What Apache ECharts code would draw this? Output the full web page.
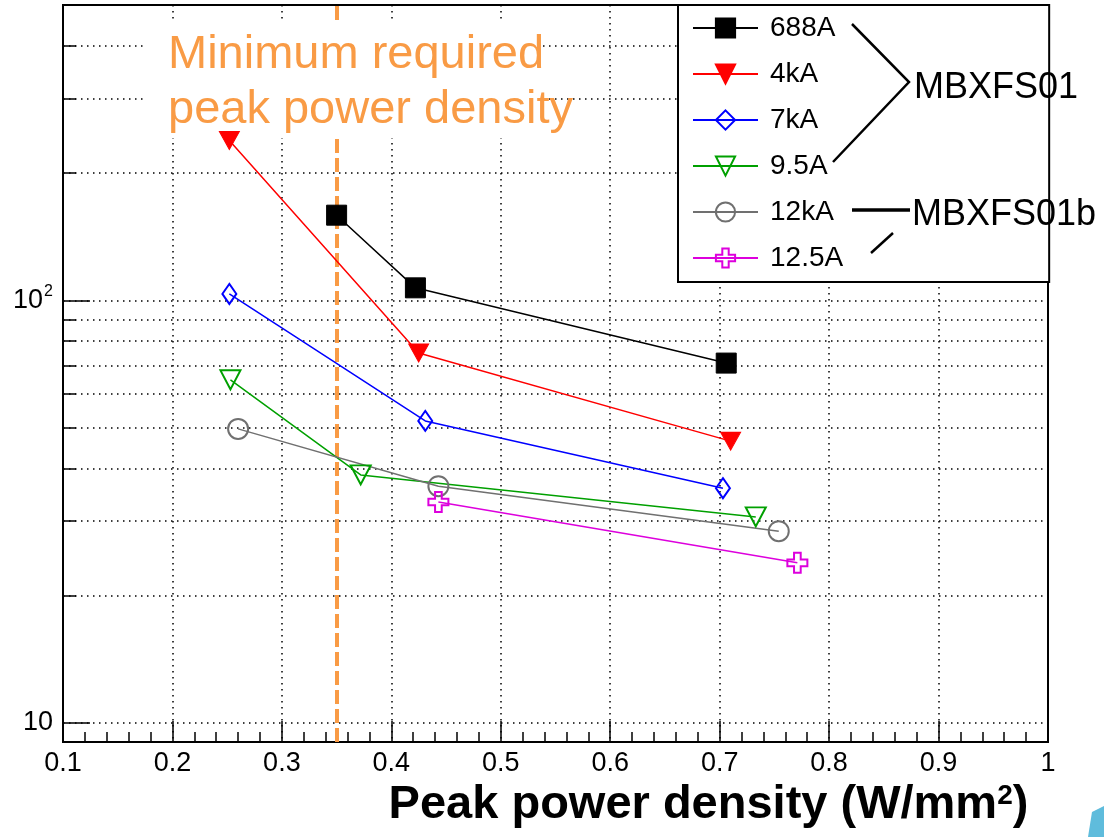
<!DOCTYPE html>
<html>
<head>
<meta charset="utf-8">
<script src="https://cdn.jsdelivr.net/npm/echarts/dist/echarts.min.js"></script>
<style>html,body{margin:0;padding:0;background:#fff}#c{width:1104px;height:837px}</style>
</head>
<body>
<div id="c"></div>
<script>
// ---- data ----
const seriesNames = ['688A', '4kA', '7kA', '9.5A', '12kA', '12.5A'];
const x688 = [0.350, 0.422, 0.706];
const y688 = [159, 107, 71.0];
const x4k = [0.252, 0.425, 0.710];
const y4k = [239, 75.0, 46.4];
const x7k = [0.252, 0.431, 0.703];
const y7k = [103.5, 51.8, 35.9];
const x95 = [0.253, 0.372, 0.733];
const y95 = [64.8, 38.6, 30.7];
const x12k = [0.260, 0.443, 0.754];
const y12k = [49.6, 36.3, 28.4];
const x125 = [0.443, 0.771];
const y125 = [33.3, 23.9];
const minRequired = 0.35;
const yMajorTicks = [10, 100];
const yMinorTicks = [20, 30, 40, 50, 60, 70, 80, 90, 200, 300, 400];
const xTickLabels = ['0.1', '0.2', '0.3', '0.4', '0.5', '0.6', '0.7', '0.8', '0.9', '1'];

const pairs = (xs, ys) => xs.map((x, i) => [x, ys[i]]);
const FONT = '"Liberation Sans", Arial, Helvetica, sans-serif';
const ORANGE = '#f99b45';
const dotted = { color: '#000', width: 1.5, type: [1.5, 4.5] };

const chart = echarts.init(document.getElementById('c'), null, { renderer: 'canvas' });

function mk(name, xs, ys, color, symbol, size, filled, rotate) {
  return {
    name: name, type: 'line', z: 10,
    data: pairs(xs, ys),
    symbol: symbol, symbolSize: size, symbolRotate: rotate || 0,
    showAllSymbol: true,
    lineStyle: { color: color, width: 1.5 },
    itemStyle: filled ? { color: color, borderColor: color, borderWidth: 1 } :
      { color: 'rgba(255,255,255,0)', borderColor: color, borderWidth: 2 },
    emphasis: { disabled: true },
    animation: false
  };
}
const crossPath = 'path://M1 0H2V1H3V2H2V3H1V2H0V1H1Z';

const option = {
  animation: false,
  grid: { left: 63, right: 56, top: 5, bottom: 95, show: true, borderColor: '#000', borderWidth: 2, backgroundColor: '#fff' },
  xAxis: {
    type: 'value', min: 0.1, max: 1, interval: 0.1,
    axisLine: { lineStyle: { color: '#000', width: 2 } },
    axisTick: { inside: true, length: 21, lineStyle: { color: '#000', width: 1.5 } },
    minorTick: { show: true, splitNumber: 5, length: 10, lineStyle: { color: '#000', width: 1.5 } },
    axisLabel: {
      margin: 8, color: '#000', fontFamily: FONT, fontSize: 27,
      formatter: v => xTickLabels[Math.round(v * 10) - 1]
    },
    splitLine: { show: true, lineStyle: dotted },
    name: 'Peak power density (W/mm{sup|2})',
    nameLocation: 'middle', nameGap: 40,
    nameTextStyle: {
      color: '#000', fontFamily: FONT, fontSize: 47, fontWeight: 'bold', padding: [0, 0, 0, 306],
      rich: { sup: { fontSize: 28, fontWeight: 'bold', fontFamily: FONT, color: '#000', padding: [0, 0, 18, 0] } }
    }
  },
  yAxis: [{
    type: 'log', logBase: 10, min: 9, max: 500,
    axisLine: { show: true, lineStyle: { color: '#000', width: 2 } },
    axisTick: { inside: true, length: 27, customValues: yMajorTicks, lineStyle: { color: '#000', width: 1.5 } },
    axisLabel: {
      customValues: yMajorTicks, margin: 10, color: '#000', fontFamily: FONT, fontSize: 27,
      formatter: v => v >= 100 ? '{b|10}{sup|2}' : '{b|10}',
      rich: {
        b: { fontSize: 27, fontFamily: FONT, color: '#000' },
        sup: { fontSize: 16, fontFamily: FONT, color: '#000', padding: [0, 0, 17, 1] }
      }
    },
    splitLine: { show: true, lineStyle: dotted }
  }, {
    type: 'log', logBase: 10, min: 9, max: 500, position: 'left',
    axisLine: { show: false },
    axisTick: { inside: true, length: 13, customValues: yMinorTicks, lineStyle: { color: '#000', width: 1.5 } },
    axisLabel: { show: false },
    splitLine: { show: true, lineStyle: dotted }
  }],
  legend: {
    data: seriesNames, orient: 'vertical', left: 678, top: 5,
    padding: [9, 206, 10, 14], itemGap: 18, itemWidth: 65, itemHeight: 24,
    backgroundColor: '#fff', borderColor: '#000', borderWidth: 2,
    selectedMode: false,
    textStyle: { color: '#000', fontFamily: FONT, fontSize: 28, lineHeight: 28, padding: [0, 0, 0, 7] }
  },
  graphic: [
    { type: 'rect', z: 3, shape: { x: 147, y: 22, width: 396, height: 116 }, style: { fill: '#fff' } },
    { type: 'text', z: 4, style: { text: 'Minimum required', x: 168, y: 55, font: '47px ' + FONT, fill: ORANGE, verticalAlign: 'middle' } },
    { type: 'text', z: 4, style: { text: 'peak power density', x: 168, y: 110, font: '47px ' + FONT, fill: ORANGE, verticalAlign: 'middle' } },
    { type: 'polyline', z: 20, shape: { points: [[852, 24], [909, 82], [833, 162]] }, style: { stroke: '#000', lineWidth: 2.5, fill: null } },
    { type: 'text', z: 20, style: { text: 'MBXFS01', x: 914, y: 88, font: '36px ' + FONT, fill: '#000', verticalAlign: 'middle' } },
    { type: 'line', z: 20, shape: { x1: 852, y1: 210, x2: 910, y2: 210 }, style: { stroke: '#000', lineWidth: 3.7 } },
    { type: 'line', z: 20, shape: { x1: 871, y1: 253, x2: 893, y2: 233 }, style: { stroke: '#000', lineWidth: 2.5 } },
    { type: 'text', z: 20, style: { text: 'MBXFS01b', x: 912, y: 215, font: '36px ' + FONT, fill: '#000', verticalAlign: 'middle' } },
    { type: 'polygon', z: 20, shape: { points: [[1092, 812], [1104, 806], [1104, 837], [1088, 837]] }, style: { fill: '#5fbcdc' } }
  ],
  series: [
    mk(seriesNames[0], x688, y688, '#000000', 'rect', 20, true),
    mk(seriesNames[1], x4k, y4k, '#ff0000', 'triangle', [20, 18], true, 180),
    mk(seriesNames[2], x7k, y7k, '#0000ff', 'diamond', [14, 20], false),
    mk(seriesNames[3], x95, y95, '#00a000', 'triangle', [20, 19], false, 180),
    mk(seriesNames[4], x12k, y12k, '#707070', 'circle', 20, false),
    mk(seriesNames[5], x125, y125, '#dd00dd', crossPath, 20, false),
    {
      name: 'min', type: 'line', z: 1, data: [], silent: true,
      markLine: {
        z: 1, silent: true, symbol: 'none', animation: false,
        label: { show: false },
        lineStyle: { color: ORANGE, width: 4, type: [14, 5] },
        data: [{ xAxis: minRequired }]
      }
    }
  ]
};
chart.setOption(option);
</script>
</body>
</html>
